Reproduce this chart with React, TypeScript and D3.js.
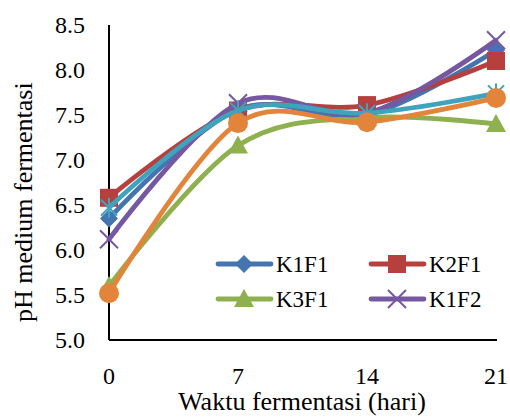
import * as d3 from 'd3'

const days = [0, 7, 14, 21]
const yTicks = [5.0, 5.5, 6.0, 6.5, 7.0, 7.5, 8.0, 8.5]

const k1f1 = [6.35, 7.56, 7.5, 8.22]
const k2f1 = [6.58, 7.55, 7.61, 8.1]
const k3f1 = [5.6, 7.16, 7.47, 7.4]
const k1f2 = [6.12, 7.63, 7.52, 8.33]
const k2f2 = [6.47, 7.55, 7.52, 7.74]
const k3f2 = [5.52, 7.41, 7.42, 7.69]

type Series = { name: string; values: number[]; color: string; marker: string; legend: boolean }

const series: Series[] = [
  { name: 'K1F1', values: k1f1, color: '#4575b0', marker: 'diamond', legend: true },
  { name: 'K2F1', values: k2f1, color: '#b5403d', marker: 'square', legend: true },
  { name: 'K3F1', values: k3f1, color: '#8fb04f', marker: 'triangle', legend: true },
  { name: 'K1F2', values: k1f2, color: '#7558a0', marker: 'x', legend: true },
  { name: 'K2F2', values: k2f2, color: '#3fa3bd', marker: 'star', legend: false },
  { name: 'K3F2', values: k3f2, color: '#e2843a', marker: 'circle', legend: false },
]

const FONT = 'Liberation Serif'

const width = 510
const height = 417
const x = d3.scaleLinear().domain([0, 21]).range([109, 496])
const y = d3.scaleLinear().domain([5, 8.5]).range([340, 25])

const line = d3.line<number>()
  .x((_, i) => x(days[i]))
  .y(d => y(d))
  .curve(d3.curveCardinal.tension(0))

function Marker({ kind, cx, cy, color }: { kind: string; cx: number; cy: number; color: string }) {
  if (kind === 'diamond') {
    return <path d={`M${cx},${cy - 9} L${cx + 9},${cy} L${cx},${cy + 9} L${cx - 9},${cy} Z`} fill={color} />
  }
  if (kind === 'square') {
    return <rect x={cx - 9} y={cy - 9} width={18} height={18} fill={color} />
  }
  if (kind === 'triangle') {
    return <path d={`M${cx},${cy - 10} L${cx + 10},${cy + 8} L${cx - 10},${cy + 8} Z`} fill={color} />
  }
  if (kind === 'circle') {
    return <circle cx={cx} cy={cy} r={10} fill={color} />
  }
  if (kind === 'x') {
    return (
      <path
        d={`M${cx - 9},${cy - 9} L${cx + 9},${cy + 9} M${cx - 9},${cy + 9} L${cx + 9},${cy - 9}`}
        stroke={color} strokeWidth={2} fill="none"
      />
    )
  }
  return (
    <path
      d={`M${cx - 8},${cy - 8} L${cx + 8},${cy + 8} M${cx - 8},${cy + 8} L${cx + 8},${cy - 8} M${cx},${cy - 10} L${cx},${cy + 10}`}
      stroke={color} strokeWidth={2} fill="none"
    />
  )
}

export default function App() {
  const legendItems = series.filter(s => s.legend)
  const textStyle = { fontFamily: FONT, fontSize: 24 }
  const titleStyle = { fontFamily: FONT, fontSize: 26 }

  return (
    <div style={{ position: 'absolute', left: 0, top: 0, width, height, background: '#fff' }}>
      <svg width={width} height={height}>
        {/* axes */}
        <line x1={x(0)} x2={x(0)} y1={y(8.5)} y2={y(5)} stroke="#000" strokeWidth={2} />
        <line x1={x(0)} x2={x(21) + 1} y1={y(5)} y2={y(5)} stroke="#000" strokeWidth={2} />

        {yTicks.map(t => (
          <text key={t} x={85} y={y(t)} dy="0.35em" textAnchor="end" style={textStyle}>
            {t.toFixed(1)}
          </text>
        ))}
        {days.map(d => (
          <text key={d} x={x(d)} y={384} textAnchor="middle" style={textStyle}>
            {d}
          </text>
        ))}
        <text x={302} y={410} textAnchor="middle" style={titleStyle}>Waktu fermentasi (hari)</text>
        <text transform="rotate(-90)" x={-322} y={32} textAnchor="start" style={titleStyle}>pH medium fermentasi</text>

        {series.map(s => (
          <g key={s.name}>
            <path d={line(s.values) ?? ''} fill="none" stroke={s.color} strokeWidth={4.8} strokeLinecap="round" />
            {s.values.map((v, i) => (
              <Marker key={i} kind={s.marker} cx={x(days[i])} cy={y(v)} color={s.color} />
            ))}
          </g>
        ))}

        {/* legend */}
        {legendItems.map((s, i) => {
          const lx = 218 + (i % 2) * 153
          const ly = 264 + Math.floor(i / 2) * 35
          return (
            <g key={s.name}>
              <line x1={lx} x2={lx + 53} y1={ly} y2={ly} stroke={s.color} strokeWidth={4.8} strokeLinecap="round" />
              <Marker kind={s.marker} cx={lx + 26} cy={ly} color={s.color} />
              <text x={lx + 58} y={ly} dy="0.35em" style={{ fontFamily: FONT, fontSize: 23 }}>{s.name}</text>
            </g>
          )
        })}
      </svg>
    </div>
  )
}
